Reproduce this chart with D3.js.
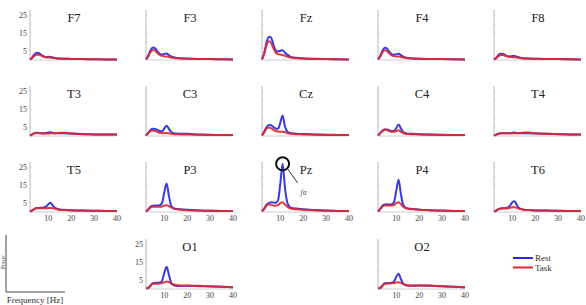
<!DOCTYPE html>
<html>
<head>
<meta charset="utf-8">
<script src="https://cdn.jsdelivr.net/npm/d3@7"></script>
<style>
  html, body { margin: 0; padding: 0; background: #fff; }
  svg { display: block; }
</style>
</head>
<body>
<div id="chart"></div>
<script>
const freqs = [2, 3, 4, 5, 6, 7, 8, 9, 10, 11, 12, 13, 14, 15, 17, 20, 25, 30, 35, 40];

const channels = ["F7", "F3", "Fz", "F4", "F8",
                  "T3", "C3", "Cz", "C4", "T4",
                  "T5", "P3", "Pz", "P4", "T6",
                  "O1", "O2"];

// power spectra, one row per channel (same order as channels)
const restPower = [
  [0.3, 1.5, 3.2, 4.0, 3.8, 2.8, 2.0, 1.6, 1.8, 1.7, 1.4, 1.1, 0.9, 0.8, 0.7, 0.6, 0.5, 0.4, 0.3, 0.3],
  [0.3, 2.5, 5.5, 7.0, 6.5, 4.8, 3.4, 3.0, 3.4, 3.6, 2.8, 2.0, 1.5, 1.2, 1.0, 0.8, 0.6, 0.5, 0.4, 0.3],
  [0.4, 4.0, 10.0, 13.0, 12.5, 8.5, 5.5, 4.8, 5.2, 5.5, 4.2, 3.0, 2.2, 1.6, 1.2, 0.9, 0.7, 0.5, 0.4, 0.3],
  [0.3, 2.4, 5.3, 6.8, 6.3, 4.5, 3.2, 2.9, 3.3, 3.5, 2.7, 1.9, 1.4, 1.1, 0.9, 0.7, 0.6, 0.5, 0.4, 0.3],
  [0.3, 1.3, 2.8, 3.5, 3.4, 2.7, 2.1, 2.0, 2.3, 2.2, 1.8, 1.4, 1.1, 0.9, 0.8, 0.7, 0.6, 0.5, 0.4, 0.3],
  [0.3, 0.9, 1.6, 1.8, 1.7, 1.6, 1.6, 1.7, 2.0, 2.1, 1.7, 1.5, 1.5, 1.5, 1.5, 1.3, 1.0, 0.9, 0.8, 0.8],
  [0.3, 1.8, 3.4, 4.0, 3.9, 3.4, 2.8, 2.6, 4.2, 5.8, 4.0, 2.3, 1.6, 1.4, 1.3, 1.2, 0.9, 0.7, 0.6, 0.5],
  [0.4, 2.5, 5.0, 6.2, 6.0, 5.0, 4.2, 4.0, 7.5, 11.5, 5.5, 2.6, 1.8, 1.5, 1.3, 1.1, 0.9, 0.7, 0.6, 0.5],
  [0.3, 1.6, 3.0, 3.6, 3.6, 3.2, 2.8, 2.8, 4.5, 6.5, 4.2, 2.3, 1.6, 1.3, 1.2, 1.0, 0.8, 0.7, 0.6, 0.5],
  [0.2, 0.8, 1.3, 1.5, 1.5, 1.5, 1.5, 1.6, 1.8, 2.0, 1.6, 1.5, 1.5, 1.5, 1.5, 1.4, 1.2, 1.0, 0.9, 0.8],
  [0.2, 0.9, 1.8, 2.2, 2.3, 2.4, 2.6, 3.0, 4.3, 5.2, 3.5, 2.3, 1.7, 1.4, 1.2, 1.0, 0.8, 0.7, 0.6, 0.5],
  [0.3, 1.5, 3.0, 3.5, 3.6, 3.6, 3.8, 5.0, 11.0, 16.0, 9.0, 3.5, 2.2, 1.8, 1.5, 1.2, 0.9, 0.7, 0.6, 0.5],
  [0.4, 2.0, 4.2, 5.0, 5.5, 5.3, 5.2, 6.5, 16.0, 27.0, 14.0, 5.5, 3.0, 2.2, 1.9, 1.5, 1.1, 0.8, 0.6, 0.5],
  [0.3, 1.8, 3.6, 4.2, 4.3, 4.2, 4.3, 5.5, 12.0, 18.0, 10.0, 4.0, 2.5, 2.0, 1.7, 1.3, 1.0, 0.8, 0.6, 0.5],
  [0.2, 0.8, 1.6, 2.0, 2.1, 2.2, 2.6, 3.5, 5.5, 6.0, 3.8, 2.2, 1.6, 1.3, 1.1, 0.9, 0.8, 0.7, 0.6, 0.5],
  [0.3, 0.6, 2.0, 3.2, 3.4, 3.5, 3.6, 4.5, 9.0, 12.5, 8.0, 3.5, 2.2, 1.8, 1.7, 1.8, 1.6, 1.4, 1.2, 1.0],
  [0.3, 0.6, 2.0, 3.2, 3.3, 3.4, 3.5, 4.2, 7.0, 8.5, 5.5, 3.0, 2.2, 1.9, 1.8, 1.9, 1.8, 1.5, 1.2, 1.0]
];

const taskPower = [
  [0.3, 1.2, 2.4, 3.0, 3.0, 2.4, 1.8, 1.5, 1.4, 1.3, 1.2, 1.0, 0.9, 0.8, 0.7, 0.6, 0.5, 0.4, 0.3, 0.3],
  [0.3, 2.0, 4.5, 5.6, 5.2, 3.8, 2.8, 2.3, 2.0, 1.9, 1.7, 1.4, 1.2, 1.0, 0.9, 0.7, 0.6, 0.5, 0.4, 0.3],
  [0.4, 3.5, 8.5, 10.5, 9.5, 6.5, 4.2, 3.3, 3.0, 2.8, 2.4, 1.9, 1.5, 1.2, 1.0, 0.8, 0.6, 0.5, 0.4, 0.3],
  [0.3, 2.0, 4.4, 5.4, 5.0, 3.6, 2.6, 2.2, 2.0, 1.9, 1.7, 1.4, 1.2, 1.0, 0.9, 0.7, 0.6, 0.5, 0.4, 0.3],
  [0.3, 1.0, 2.2, 2.8, 2.8, 2.3, 1.9, 1.7, 1.6, 1.5, 1.4, 1.2, 1.0, 0.9, 0.8, 0.7, 0.6, 0.5, 0.4, 0.3],
  [0.3, 0.9, 1.6, 1.8, 1.6, 1.5, 1.4, 1.4, 1.4, 1.5, 1.5, 1.6, 1.7, 1.8, 1.8, 1.5, 1.1, 0.9, 0.8, 0.8],
  [0.3, 1.6, 2.8, 3.1, 2.8, 2.3, 1.8, 1.6, 1.6, 1.7, 1.5, 1.3, 1.1, 1.0, 0.9, 0.8, 0.7, 0.6, 0.5, 0.5],
  [0.4, 2.2, 4.2, 4.8, 4.3, 3.5, 2.8, 2.5, 2.4, 2.4, 2.1, 1.7, 1.4, 1.2, 1.0, 0.9, 0.7, 0.6, 0.5, 0.5],
  [0.3, 1.6, 2.8, 3.6, 3.4, 2.8, 2.4, 2.4, 2.8, 3.2, 2.4, 1.7, 1.3, 1.1, 1.0, 0.9, 0.7, 0.6, 0.5, 0.5],
  [0.2, 0.8, 1.3, 1.5, 1.5, 1.5, 1.5, 1.5, 1.5, 1.6, 1.6, 1.7, 1.8, 1.9, 1.9, 1.6, 1.3, 1.1, 0.9, 0.8],
  [0.2, 0.9, 1.8, 2.1, 2.1, 2.1, 2.1, 2.1, 2.2, 2.3, 2.1, 1.8, 1.5, 1.3, 1.1, 0.9, 0.8, 0.7, 0.6, 0.5],
  [0.3, 1.3, 2.6, 3.0, 3.0, 3.0, 3.0, 3.1, 3.5, 3.8, 3.3, 2.6, 2.0, 1.6, 1.3, 1.0, 0.8, 0.7, 0.6, 0.5],
  [0.4, 1.8, 3.6, 4.3, 4.0, 3.6, 3.5, 3.8, 5.0, 5.5, 4.2, 3.0, 2.2, 1.8, 1.5, 1.2, 0.9, 0.7, 0.6, 0.5],
  [0.3, 1.6, 3.2, 3.7, 3.7, 3.6, 3.6, 4.0, 5.0, 5.5, 4.4, 3.0, 2.2, 1.8, 1.5, 1.2, 0.9, 0.7, 0.6, 0.5],
  [0.2, 0.8, 1.6, 2.0, 2.0, 2.0, 2.1, 2.3, 2.6, 2.7, 2.3, 1.8, 1.5, 1.3, 1.1, 0.9, 0.8, 0.7, 0.6, 0.5],
  [0.3, 0.5, 1.8, 2.9, 3.0, 3.0, 3.1, 3.3, 3.8, 4.2, 3.8, 3.0, 2.5, 2.2, 2.0, 1.9, 1.8, 1.5, 1.3, 1.0],
  [0.3, 0.5, 1.8, 3.0, 3.1, 3.1, 3.2, 3.3, 3.6, 3.8, 3.4, 2.8, 2.4, 2.1, 2.0, 2.0, 1.9, 1.6, 1.3, 1.0]
];

const yTicks = [5, 15, 25];
const xTicks = [10, 20, 30, 40];
const seriesNames = ["Rest", "Task"];
const seriesColors = ["#2828e4", "#e0282e"];
const peakChannel = "Pz";
const peakFreq = 11;
const peakLabel = "fα";

// grid layout: column / row of each channel
const gridCol = [0, 1, 2, 3, 4, 0, 1, 2, 3, 4, 0, 1, 2, 3, 4, 1, 3];
const gridRow = [0, 0, 0, 0, 0, 1, 1, 1, 1, 1, 2, 2, 2, 2, 2, 3, 3];

const W = 586, H = 305;
const colX = [30, 146, 262, 378, 494];
const rowBase = [60, 136, 212, 289];
const panelW = 87, panelH = 50;
const serif = "'Liberation Serif', 'DejaVu Serif', serif";

const svg = d3.select("#chart").append("svg")
  .attr("width", W)
  .attr("height", H)
  .style("font-family", serif);

const line = (x, y) => d3.line()
  .x((d, i) => x(freqs[i]))
  .y((d) => y(d))
  .curve(d3.curveMonotoneX);

channels.forEach((name, ci) => {
  const x0 = colX[gridCol[ci]];
  const base = rowBase[gridRow[ci]];
  const x = d3.scaleLinear().domain([2, 40]).range([x0, x0 + panelW]);
  const y = d3.scaleLinear().domain([0, 28]).range([base, base - panelH]);
  const g = svg.append("g").attr("class", "panel");

  const showY = gridCol[ci] === 0 || name === "O1";
  const showX = gridRow[ci] >= 2;

  // vertical axis
  g.append("line")
    .attr("x1", x0).attr("x2", x0)
    .attr("y1", y(28)).attr("y2", base)
    .attr("stroke", "#a8a8a8").attr("stroke-width", 0.8);
  g.selectAll(".ytick")
    .data([5, 10, 15, 20, 25])
    .join("line")
    .attr("x1", x0).attr("x2", x0 + 1.5)
    .attr("y1", (d) => y(d)).attr("y2", (d) => y(d))
    .attr("stroke", "#c4c4c4").attr("stroke-width", 0.8);

  // baseline
  g.append("line")
    .attr("x1", x0).attr("x2", x(40))
    .attr("y1", base).attr("y2", base)
    .attr("stroke", "#c0c0c0").attr("stroke-width", 0.8);

  if (showY) {
    g.selectAll(".ylab")
      .data(yTicks)
      .join("text")
      .attr("x", x0 - 3)
      .attr("y", (d) => y(d) + 2.5)
      .attr("text-anchor", "end")
      .attr("font-size", 8)
      .attr("fill", "#444")
      .text((d) => d);
  }
  if (showX) {
    g.selectAll(".xlab")
      .data(xTicks)
      .join("text")
      .attr("x", (d) => x(d))
      .attr("y", base + 9)
      .attr("text-anchor", "middle")
      .attr("font-size", 8)
      .attr("fill", "#444")
      .text((d) => d);
  }

  [restPower[ci], taskPower[ci]].forEach((vals, si) => {
    g.append("path")
      .datum(vals)
      .attr("d", line(x, y))
      .attr("fill", "none")
      .attr("stroke", seriesColors[si])
      .attr("stroke-width", 2)
      .attr("stroke-linejoin", "round")
      .attr("opacity", 0.92);
  });

  g.append("text")
    .attr("x", x0 + 44)
    .attr("y", base - panelH + 12)
    .attr("text-anchor", "middle")
    .attr("font-size", 12.5)
    .attr("fill", "#222")
    .text(name);

  if (name === peakChannel) {
    const px = x(peakFreq), py = y(restPower[ci][freqs.indexOf(peakFreq)]);
    g.append("circle")
      .attr("cx", px).attr("cy", py).attr("r", 6.5)
      .attr("fill", "none").attr("stroke", "#111").attr("stroke-width", 2);
    g.append("line")
      .attr("x1", px + 4.6).attr("y1", py + 4.6)
      .attr("x2", px + 15).attr("y2", py + 19)
      .attr("stroke", "#333").attr("stroke-width", 1);
    g.append("text")
      .attr("x", px + 18).attr("y", py + 31)
      .attr("font-size", 7.5)
      .attr("font-style", "italic")
      .attr("fill", "#555")
      .text(peakLabel);
  }
});

// schematic axes, bottom left
const sch = svg.append("g");
sch.append("path")
  .attr("d", "M6,235 L6,292 L65,292")
  .attr("fill", "none")
  .attr("stroke", "#444")
  .attr("stroke-width", 1);
sch.append("text")
  .attr("x", 35).attr("y", 303)
  .attr("text-anchor", "middle")
  .attr("font-size", 9)
  .attr("fill", "#333")
  .text("Frequency [Hz]");
sch.append("text")
  .attr("transform", "translate(4.5,262) rotate(-90)")
  .attr("text-anchor", "middle")
  .attr("font-size", 5.5)
  .attr("fill", "#555")
  .text("Power");

// legend
const legend = svg.append("g").attr("transform", "translate(513,258)");
legend.selectAll("g")
  .data(seriesNames)
  .join("g")
  .attr("transform", (d, i) => `translate(0,${i * 9.5})`)
  .each(function (d, i) {
    const gi = d3.select(this);
    gi.append("line")
      .attr("x1", 0).attr("x2", 20)
      .attr("stroke", seriesColors[i]).attr("stroke-width", 2);
    gi.append("text")
      .attr("x", 22).attr("y", 3)
      .attr("font-size", 9)
      .attr("fill", "#333")
      .text(d);
  });
</script>
</body>
</html>
